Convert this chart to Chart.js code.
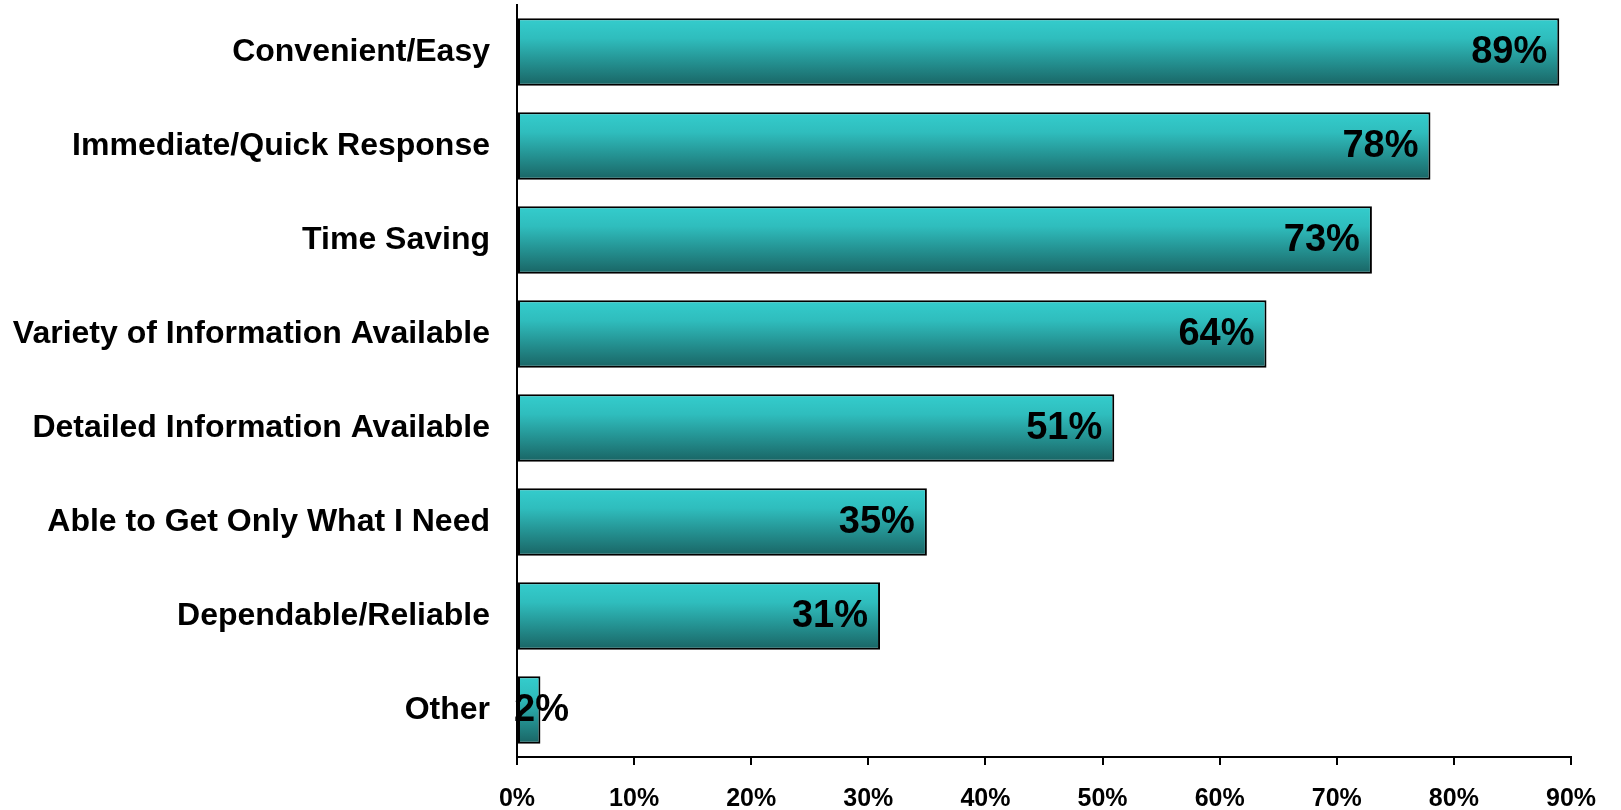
<!DOCTYPE html>
<html>
<head>
<meta charset="utf-8">
<title>Reasons for Use</title>
<script src="https://cdn.jsdelivr.net/npm/chart.js@4/dist/chart.umd.min.js"></script>
<style>
    html, body { margin: 0; padding: 0; background: #fff; }
    #wrap { width: 1621px; height: 810px; position: relative; }
</style>
</head>
<body>
<div id="wrap"><canvas id="reasonsChart"></canvas></div>
<script>
const CATEGORIES = [
    'Convenient/Easy',
    'Immediate/Quick Response',
    'Time Saving',
    'Variety of Information Available',
    'Detailed Information Available',
    'Able to Get Only What I Need',
    'Dependable/Reliable',
    'Other'
];
const PERCENTS = [89, 78, 73, 64, 51, 35, 31, 2];
const X_TICKS = [0, 10, 20, 30, 40, 50, 60, 70, 80, 90];

const FONT = 'Liberation Sans, Arial, sans-serif';

// teal vertical gradient per bar, built from each bar's own box
const barGradient = {
    id: 'barGradient',
    beforeDatasetsDraw(chart) {
        const ctx = chart.ctx;
        chart.getDatasetMeta(0).data.forEach(bar => {
            const top = bar.y - bar.height / 2;
            const g = ctx.createLinearGradient(0, top, 0, top + bar.height);
            g.addColorStop(0, '#34cdcd');
            g.addColorStop(0.3, '#2fbdbd');
            g.addColorStop(1, '#196464');
            bar.options.backgroundColor = g;
        });
    }
};

// value labels at the inner end of each bar, pushed right when the bar is too short
const valueLabels = {
    id: 'valueLabels',
    afterDatasetsDraw(chart) {
        const ctx = chart.ctx;
        const ds = chart.data.datasets[0];
        ctx.save();
        ctx.font = 'bold 38px ' + FONT;
        ctx.fillStyle = '#000';
        ctx.textAlign = 'right';
        ctx.textBaseline = 'middle';
        chart.getDatasetMeta(0).data.forEach((bar, i) => {
            const txt = ds.data[i] + '%';
            const w = ctx.measureText(txt).width;
            const x = Math.max(bar.x - 12, bar.base - 4 + w);
            ctx.fillText(txt, x, bar.y + 1);
        });
        ctx.restore();
    }
};

new Chart(document.getElementById('reasonsChart').getContext('2d'), {
    type: 'bar',
    data: {
        labels: CATEGORIES,
        datasets: [{
            data: PERCENTS,
            // scriptable so every bar keeps its own options object
            backgroundColor: () => '#2fbdbd',
            borderColor: '#000',
            borderWidth: 2,
            borderSkipped: false,
            barPercentage: 0.72,
            categoryPercentage: 1
        }]
    },
    options: {
        indexAxis: 'y',
        responsive: true,
        maintainAspectRatio: false,
        animation: false,
        layout: { padding: { top: 5, right: 50, left: 0, bottom: 0 } },
        plugins: { legend: { display: false }, tooltip: { enabled: false } },
        scales: {
            x: {
                min: 0,
                max: 90,
                afterBuildTicks: scale => { scale.ticks = X_TICKS.map(v => ({ value: v })); },
                afterFit: scale => { scale.height = 53; scale.paddingRight = 0; },
                grid: { drawOnChartArea: false, drawTicks: true, tickLength: 8, color: '#000', lineWidth: 2 },
                border: { display: true, color: '#000', width: 2 },
                ticks: {
                    color: '#000',
                    padding: 19,
                    font: { family: FONT, size: 25, weight: 'bold' },
                    callback: v => v + '%'
                }
            },
            y: {
                afterFit: scale => {
                    scale.width = 517;
                    scale.paddingTop = 0;
                    scale.paddingBottom = 0;
                },
                grid: { drawOnChartArea: false, drawTicks: false },
                border: { display: true, color: '#000', width: 2 },
                ticks: {
                    color: '#000',
                    padding: 27,
                    font: { family: FONT, size: 32, weight: 'bold' }
                }
            }
        }
    },
    plugins: [barGradient, valueLabels]
});
</script>
</body>
</html>
